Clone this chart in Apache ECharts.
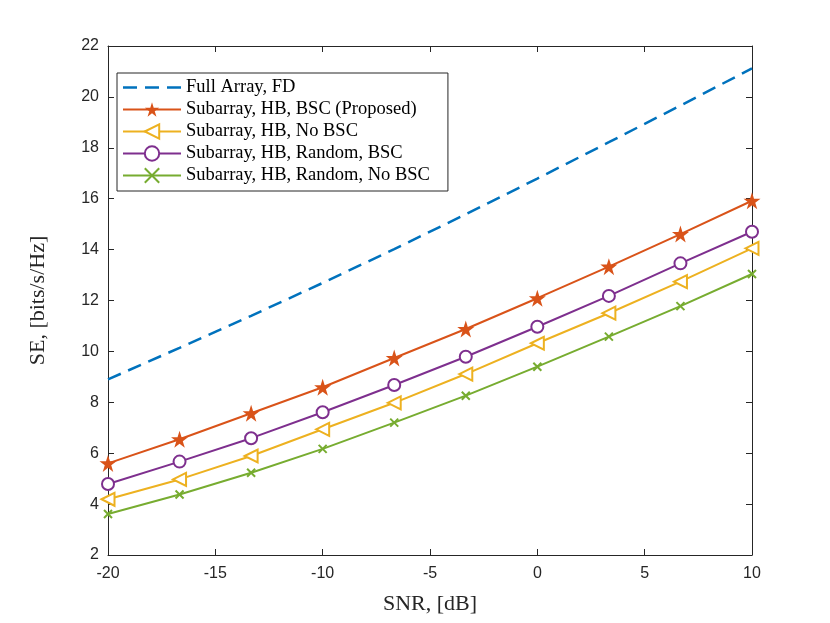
<!DOCTYPE html>
<html>
<head>
<meta charset="utf-8">
<script src="https://cdn.jsdelivr.net/npm/echarts@6/dist/echarts.min.js"></script>
<style>html,body{margin:0;padding:0;background:#fff;}#c{width:830px;height:623px;}</style>
</head>
<body>
<div id="c"></div>
<script>
const snr = [-20, -16.667, -13.333, -10, -6.667, -3.333, 0, 3.333, 6.667, 10];
const fullArrayFD = [8.90, 10.14, 11.40, 12.69, 14.02, 15.39, 16.79, 18.22, 19.66, 21.12];
const subBSCProposed = [5.60, 6.55, 7.57, 8.59, 9.74, 10.88, 12.09, 13.33, 14.61, 15.92];
const subNoBSC = [4.19, 4.97, 5.89, 6.94, 7.98, 9.11, 10.32, 11.50, 12.74, 14.05];
const subRandomBSC = [4.79, 5.67, 6.59, 7.61, 8.68, 9.79, 10.97, 12.18, 13.46, 14.70];
const subRandomNoBSC = [3.61, 4.38, 5.23, 6.17, 7.20, 8.26, 9.40, 10.58, 11.78, 13.04];
const seriesNames = ['Full Array, FD', 'Subarray, HB, BSC (Proposed)', 'Subarray, HB, No BSC', 'Subarray, HB, Random, BSC', 'Subarray, HB, Random, No BSC'];
const xTicks = [-20, -15, -10, -5, 0, 5, 10];
const yTicks = [2, 4, 6, 8, 10, 12, 14, 16, 18, 20, 22];

const pair = (ys) => snr.map((x, i) => [x, ys[i]]);
const axisColor = '#262626';
const starPath = 'path://M50,0 L61.8,36.2 L100,36.2 L69.1,58.6 L80.9,95.1 L50,72.4 L19.1,95.1 L30.9,58.6 L0,36.2 L38.2,36.2 Z';
const xPath = 'path://M0,0 L10,10 M10,0 L0,10';
// legend icon for the dashed line (tiny corner squares keep the bounding box at full item size)
const dashIcon = 'path://M0,0h0.01v0.01h-0.01z M57.99,17.99h0.01v0.01h-0.01z ' +
  'M0,7.75h14v2.5H0z M22,7.75h14v2.5H22z M44,7.75h14v2.5H44z';

const chart = echarts.init(document.getElementById('c'), null, {renderer: 'canvas'});
const baseAxis = {
  axisLine: {show: true, onZero: false, lineStyle: {color: axisColor, width: 1}},
  axisTick: {show: true, inside: true, length: 6, lineStyle: {color: axisColor}},
  splitLine: {show: false}
};
chart.setOption({
  backgroundColor: '#fff',
  animation: false,
  grid: {left: 108, right: 78, top: 46, bottom: 68},
  xAxis: [
    Object.assign({}, baseAxis, {
      type: 'value', min: -20, max: 10, interval: 5, position: 'bottom',
      name: 'SNR, [dB]', nameLocation: 'middle', nameGap: 38,
      nameTextStyle: {fontFamily: 'Liberation Serif', fontSize: 22, color: axisColor},
      axisLabel: {color: axisColor, fontFamily: 'Liberation Sans', fontSize: 16, margin: 11,
        formatter: v => xTicks.includes(v) ? String(v) : ''}
    }),
    Object.assign({}, baseAxis, {
      type: 'value', min: -20, max: 10, interval: 5, position: 'top', axisLabel: {show: false}
    })
  ],
  yAxis: [
    Object.assign({}, baseAxis, {
      type: 'value', min: 2, max: 22, interval: 2, position: 'left',
      name: 'SE, [bits/s/Hz]', nameLocation: 'middle', nameGap: 59,
      nameTextStyle: {fontFamily: 'Liberation Serif', fontSize: 22, color: axisColor},
      axisLabel: {color: axisColor, fontFamily: 'Liberation Sans', fontSize: 16, margin: 9,
        formatter: v => yTicks.includes(v) ? String(v) : ''}
    }),
    Object.assign({}, baseAxis, {
      type: 'value', min: 2, max: 22, interval: 2, position: 'right', axisLabel: {show: false}
    })
  ],
  legend: {
    show: true, orient: 'vertical', left: 117, top: 73,
    itemWidth: 58, itemHeight: 18, itemGap: 3,
    padding: [5, 18, 6, 5],
    backgroundColor: '#fff', borderColor: axisColor, borderWidth: 1,
    textStyle: {fontFamily: 'Liberation Serif', fontSize: 18.5, color: '#000', lineHeight: 18},
    data: [
      {name: seriesNames[0], icon: dashIcon, itemStyle: {color: '#0072BD'}},
      seriesNames[1], seriesNames[2], seriesNames[3], seriesNames[4]
    ]
  },
  series: [
    {name: seriesNames[0], type: 'line', data: pair(fullArrayFD), symbol: 'none',
      lineStyle: {color: '#0072BD', width: 2.5, type: [14, 8]}, itemStyle: {color: '#0072BD'}},
    {name: seriesNames[1], type: 'line', data: pair(subBSCProposed), symbol: starPath, symbolSize: 17,
      lineStyle: {color: '#D95319', width: 2}, itemStyle: {color: '#D95319'}},
    {name: seriesNames[2], type: 'line', data: pair(subNoBSC), symbol: 'emptyTriangle', symbolRotate: 90, symbolSize: 13,
      lineStyle: {color: '#EDB120', width: 2}, itemStyle: {color: '#EDB120', borderColor: '#EDB120', borderWidth: 2}},
    {name: seriesNames[3], type: 'line', data: pair(subRandomBSC), symbol: 'emptyCircle', symbolSize: 12,
      lineStyle: {color: '#7E2F8E', width: 2}, itemStyle: {color: '#7E2F8E', borderColor: '#7E2F8E', borderWidth: 2}},
    {name: seriesNames[4], type: 'line', data: pair(subRandomNoBSC), symbol: xPath, symbolSize: 8,
      lineStyle: {color: '#77AC30', width: 2}, itemStyle: {color: '#77AC30', borderColor: '#77AC30', borderWidth: 2}}
  ]
});
</script>
</body>
</html>
